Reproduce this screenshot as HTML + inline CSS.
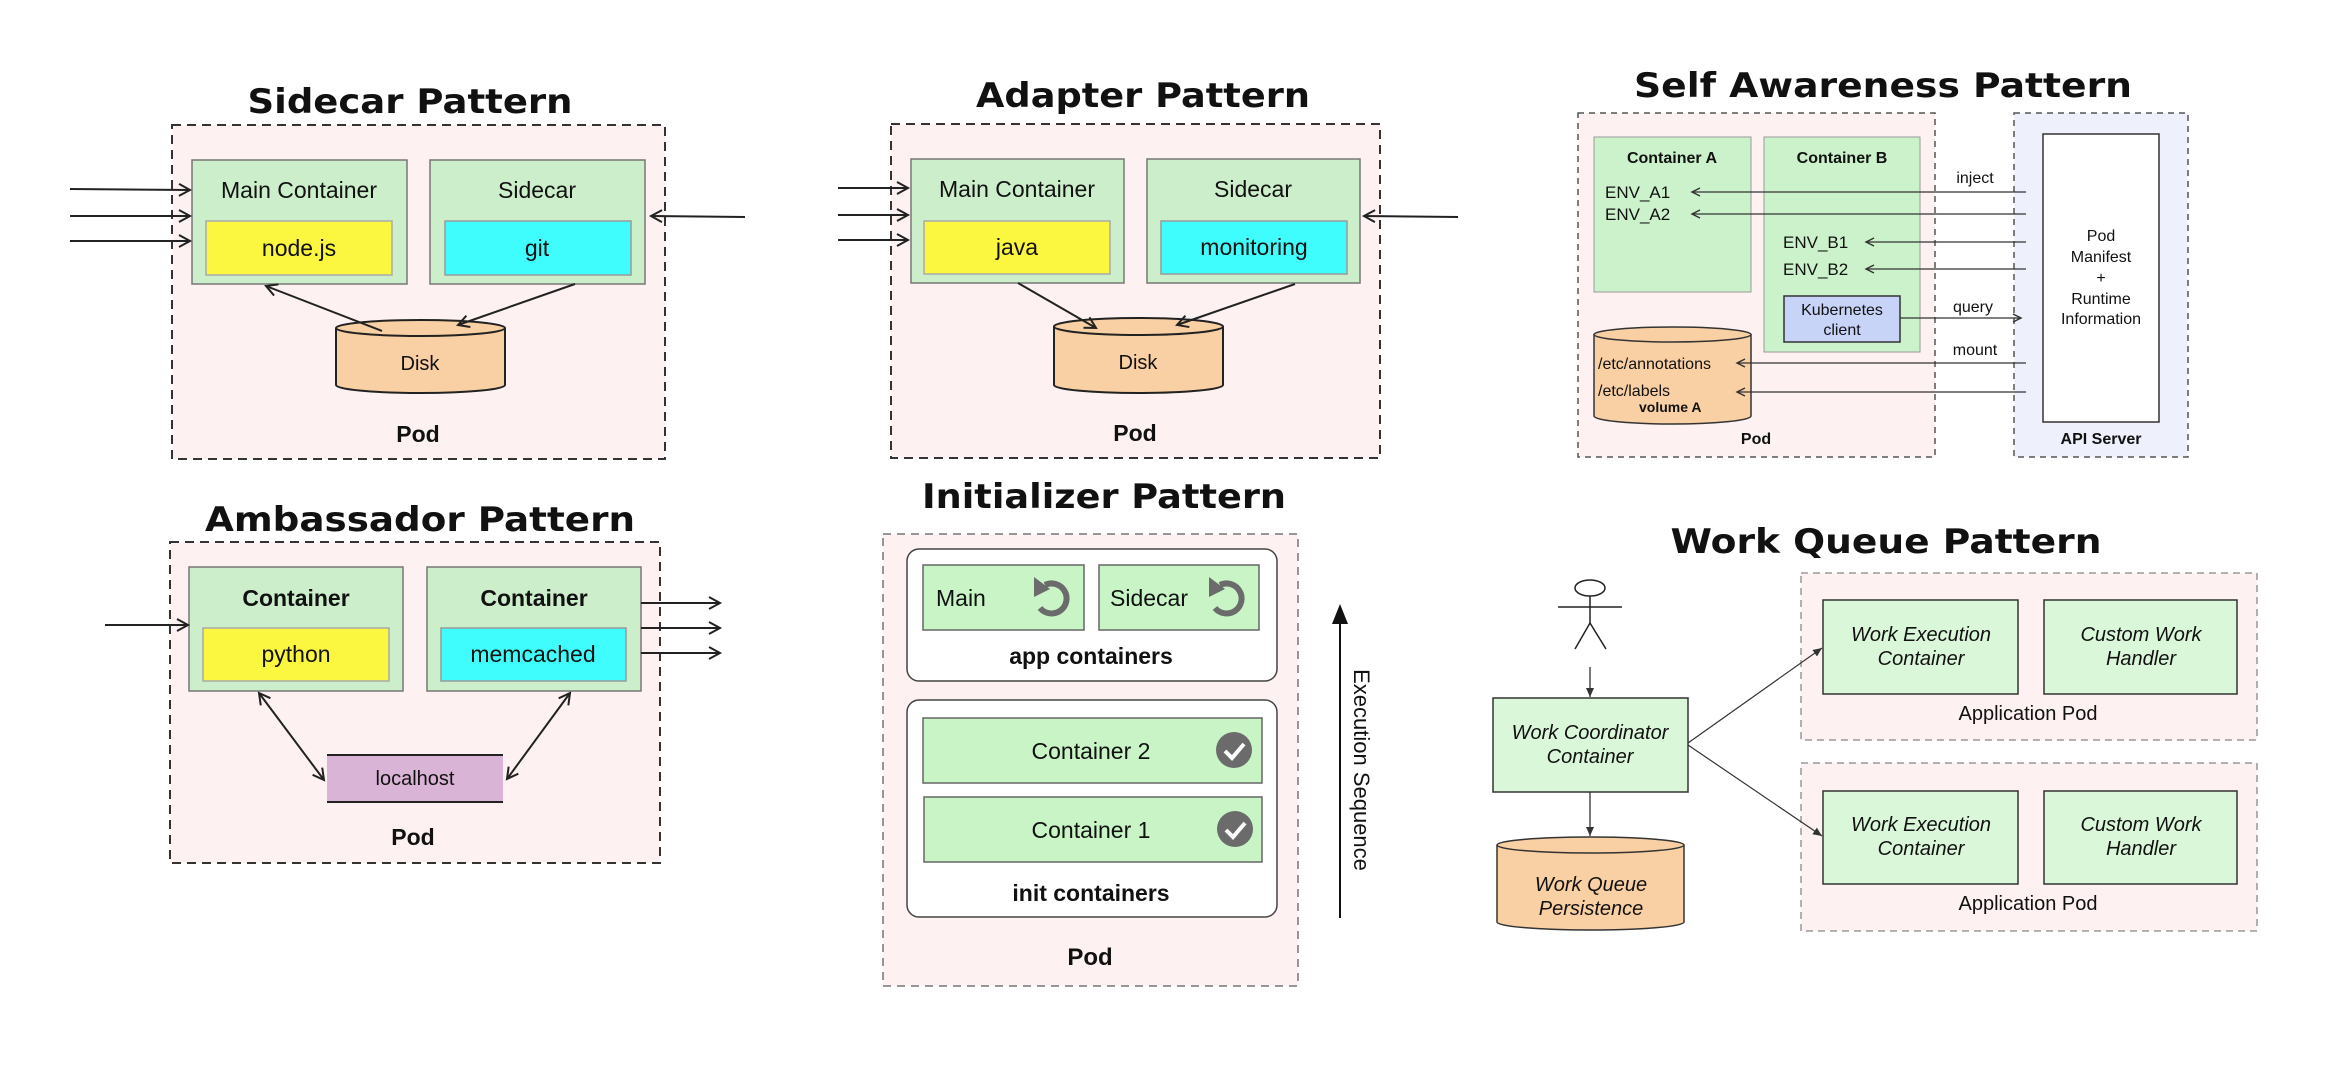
<!DOCTYPE html>
<html><head><meta charset="utf-8"><style>
html,body{margin:0;padding:0;background:#fff;}
svg{display:block;}
.t{font-family:"DejaVu Sans","Liberation Sans",sans-serif;font-size:34px;font-weight:bold;fill:#111;text-anchor:middle;}
.s{font-family:"Liberation Sans",Arial,sans-serif;fill:#111;}
.m{text-anchor:middle;}
.b{font-weight:bold;}
.i{font-style:italic;}
</style></head><body>
<svg width="2346" height="1071" viewBox="0 0 2346 1071" xmlns="http://www.w3.org/2000/svg">
<defs>
<marker id="o" markerUnits="userSpaceOnUse" markerWidth="16" markerHeight="16" refX="13" refY="8" orient="auto"><path d="M2,2 L13,8 L2,14" fill="none" stroke="#222" stroke-width="2"/></marker>
<marker id="os" markerUnits="userSpaceOnUse" markerWidth="12" markerHeight="12" refX="10" refY="6" orient="auto"><path d="M2,2 L10,6 L2,10" fill="none" stroke="#333" stroke-width="1.4"/></marker>
<marker id="osr" markerUnits="userSpaceOnUse" markerWidth="16" markerHeight="16" refX="3" refY="8" orient="auto"><path d="M14,2 L3,8 L14,14" fill="none" stroke="#222" stroke-width="2"/></marker>
<marker id="f" markerUnits="userSpaceOnUse" markerWidth="10" markerHeight="10" refX="9" refY="5" orient="auto"><path d="M0,1 L9,5 L0,9 Z" fill="#333"/></marker>
</defs>
<rect width="2346" height="1071" fill="#fff"/>

<!-- SIDECAR -->
<text class="t" x="410" y="113" textLength="325" lengthAdjust="spacingAndGlyphs">Sidecar Pattern</text>
<rect x="172" y="125" width="493" height="334" fill="#fdf1f1" stroke="#333" stroke-width="2" stroke-dasharray="9,6"/>
<rect x="192" y="160" width="215" height="124" fill="#cdeecb" stroke="#777" stroke-width="1.5"/>
<rect x="430" y="160" width="215" height="124" fill="#cdeecb" stroke="#777" stroke-width="1.5"/>
<rect x="206" y="221" width="186" height="54" fill="#fbf63f" stroke="#aaa" stroke-width="1.5"/>
<rect x="445" y="221" width="186" height="54" fill="#3ffdfd" stroke="#999" stroke-width="1.5"/>
<text class="s m" x="299" y="198" font-size="23">Main Container</text>
<text class="s m" x="537" y="198" font-size="23">Sidecar</text>
<text class="s m" x="299" y="256" font-size="23">node.js</text>
<text class="s m" x="537" y="256" font-size="23">git</text>
<path d="M336,328 V385 A84.5,8 0 0 0 505,385 V328" fill="#f9cfa4" stroke="#222" stroke-width="2"/>
<ellipse cx="420.5" cy="328" rx="84.5" ry="8" fill="#f9cfa4" stroke="#222" stroke-width="2"/>
<text class="s m" x="420" y="370" font-size="20">Disk</text>
<text class="s m b" x="418" y="442" font-size="23">Pod</text>
<line x1="70" y1="189" x2="190" y2="190" stroke="#222" stroke-width="2" marker-end="url(#o)"/>
<line x1="70" y1="216" x2="190" y2="216" stroke="#222" stroke-width="2" marker-end="url(#o)"/>
<line x1="70" y1="241" x2="190" y2="241" stroke="#222" stroke-width="2" marker-end="url(#o)"/>
<line x1="745" y1="217" x2="651" y2="216" stroke="#222" stroke-width="2" marker-end="url(#o)"/>
<line x1="382" y1="331" x2="266" y2="286" stroke="#222" stroke-width="2" marker-end="url(#o)"/>
<line x1="575" y1="284" x2="458" y2="325" stroke="#222" stroke-width="2" marker-end="url(#o)"/>

<!-- ADAPTER -->
<text class="t" x="1143" y="107" textLength="334" lengthAdjust="spacingAndGlyphs">Adapter Pattern</text>
<rect x="891" y="124" width="489" height="334" fill="#fdf1f1" stroke="#333" stroke-width="2" stroke-dasharray="9,6"/>
<rect x="911" y="159" width="213" height="124" fill="#cdeecb" stroke="#777" stroke-width="1.5"/>
<rect x="1147" y="159" width="213" height="124" fill="#cdeecb" stroke="#777" stroke-width="1.5"/>
<rect x="924" y="221" width="186" height="53" fill="#fbf63f" stroke="#aaa" stroke-width="1.5"/>
<rect x="1161" y="221" width="186" height="53" fill="#3ffdfd" stroke="#999" stroke-width="1.5"/>
<text class="s m" x="1017" y="197" font-size="23">Main Container</text>
<text class="s m" x="1253" y="197" font-size="23">Sidecar</text>
<text class="s m" x="1017" y="255" font-size="23">java</text>
<text class="s m" x="1254" y="255" font-size="23">monitoring</text>
<path d="M1054,326.5 V385 A84.5,8 0 0 0 1223,385 V326.5" fill="#f9cfa4" stroke="#222" stroke-width="2"/>
<ellipse cx="1138.5" cy="326.5" rx="84.5" ry="8.5" fill="#f9cfa4" stroke="#222" stroke-width="2"/>
<text class="s m" x="1138" y="369" font-size="20">Disk</text>
<text class="s m b" x="1135" y="441" font-size="23">Pod</text>
<line x1="838" y1="188" x2="908" y2="188" stroke="#222" stroke-width="2" marker-end="url(#o)"/>
<line x1="838" y1="215" x2="908" y2="215" stroke="#222" stroke-width="2" marker-end="url(#o)"/>
<line x1="838" y1="240" x2="908" y2="240" stroke="#222" stroke-width="2" marker-end="url(#o)"/>
<line x1="1458" y1="217" x2="1364" y2="216" stroke="#222" stroke-width="2" marker-end="url(#o)"/>
<line x1="1018" y1="283" x2="1096" y2="328" stroke="#222" stroke-width="2" marker-end="url(#o)"/>
<line x1="1295" y1="284" x2="1177" y2="325" stroke="#222" stroke-width="2" marker-end="url(#o)"/>

<!-- AMBASSADOR -->
<text class="t" x="420" y="531" textLength="430" lengthAdjust="spacingAndGlyphs">Ambassador Pattern</text>
<rect x="170" y="542" width="490" height="321" fill="#fdf1f1" stroke="#333" stroke-width="2" stroke-dasharray="9,6"/>
<rect x="189" y="567" width="214" height="124" fill="#cdeecb" stroke="#777" stroke-width="1.5"/>
<rect x="427" y="567" width="214" height="124" fill="#cdeecb" stroke="#777" stroke-width="1.5"/>
<rect x="203" y="628" width="186" height="53" fill="#fbf63f" stroke="#aaa" stroke-width="1.5"/>
<rect x="441" y="628" width="185" height="53" fill="#3ffdfd" stroke="#999" stroke-width="1.5"/>
<text class="s m b" x="296" y="606" font-size="23">Container</text>
<text class="s m b" x="534" y="606" font-size="23">Container</text>
<text class="s m" x="296" y="662" font-size="23">python</text>
<text class="s m" x="533" y="662" font-size="23">memcached</text>
<rect x="327" y="755" width="176" height="47" fill="#dab4d6"/>
<line x1="327" y1="755" x2="503" y2="755" stroke="#222" stroke-width="2"/>
<line x1="327" y1="802" x2="503" y2="802" stroke="#222" stroke-width="2"/>
<text class="s m" x="415" y="785" font-size="20">localhost</text>
<text class="s m b" x="413" y="845" font-size="23">Pod</text>
<line x1="105" y1="625" x2="188" y2="625" stroke="#222" stroke-width="2" marker-end="url(#o)"/>
<line x1="641" y1="603" x2="720" y2="603" stroke="#222" stroke-width="2" marker-end="url(#o)"/>
<line x1="641" y1="628" x2="720" y2="628" stroke="#222" stroke-width="2" marker-end="url(#o)"/>
<line x1="641" y1="653" x2="720" y2="653" stroke="#222" stroke-width="2" marker-end="url(#o)"/>
<line x1="259" y1="693" x2="324" y2="780" stroke="#222" stroke-width="2" marker-start="url(#osr)" marker-end="url(#o)"/>
<line x1="570" y1="693" x2="507" y2="779" stroke="#222" stroke-width="2" marker-start="url(#osr)" marker-end="url(#o)"/>

<!-- INITIALIZER -->
<text class="t" x="1104" y="508" textLength="364" lengthAdjust="spacingAndGlyphs">Initializer Pattern</text>
<rect x="883" y="534" width="415" height="452" fill="#fdf1f1" stroke="#777" stroke-width="1.5" stroke-dasharray="8,6"/>
<rect x="907" y="549" width="370" height="132" rx="12" fill="#fff" stroke="#444" stroke-width="1.5"/>
<rect x="923" y="565" width="161" height="65" fill="#c8f4c6" stroke="#666" stroke-width="1.5"/>
<rect x="1099" y="565" width="160" height="65" fill="#c8f4c6" stroke="#666" stroke-width="1.5"/>
<text class="s" x="936" y="606" font-size="23">Main</text>
<text class="s" x="1110" y="606" font-size="23">Sidecar</text>
<g fill="none" stroke="#6b6b6b" stroke-width="6">
<path d="M1045,585 A15,15 0 1 1 1040,608"/>
<path d="M1220,585 A15,15 0 1 1 1215,608"/>
</g>
<path d="M1034,577 L1050,589 L1034,597 Z" fill="#6b6b6b"/>
<path d="M1209,577 L1225,589 L1209,597 Z" fill="#6b6b6b"/>
<text class="s m b" x="1091" y="664" font-size="23">app containers</text>
<rect x="907" y="700" width="370" height="217" rx="12" fill="#fff" stroke="#444" stroke-width="1.5"/>
<rect x="923" y="718" width="339" height="65" fill="#c8f4c6" stroke="#666" stroke-width="1.5"/>
<rect x="924" y="797" width="338" height="65" fill="#c8f4c6" stroke="#666" stroke-width="1.5"/>
<text class="s m" x="1091" y="759" font-size="23">Container 2</text>
<text class="s m" x="1091" y="838" font-size="23">Container 1</text>
<circle cx="1234" cy="750" r="18" fill="#6b6b6b"/>
<circle cx="1235" cy="829" r="18" fill="#6b6b6b"/>
<polyline points="1225,751 1232,758 1244,744" fill="none" stroke="#fff" stroke-width="4"/>
<polyline points="1226,830 1233,837 1245,823" fill="none" stroke="#fff" stroke-width="4"/>
<text class="s m b" x="1091" y="901" font-size="23">init containers</text>
<text class="s m b" x="1090" y="965" font-size="24">Pod</text>
<line x1="1340" y1="918" x2="1340" y2="620" stroke="#111" stroke-width="2"/>
<path d="M1332,624 L1340,604 L1348,624 Z" fill="#111"/>
<text class="s m" transform="translate(1354,770) rotate(90)" font-size="22">Execution Sequence</text>

<!-- SELF AWARENESS -->
<text class="t" x="1883" y="97" textLength="498" lengthAdjust="spacingAndGlyphs">Self Awareness Pattern</text>
<rect x="1578" y="113" width="357" height="344" fill="#fdf1f1" stroke="#555" stroke-width="1.5" stroke-dasharray="6,5"/>
<rect x="2014" y="113" width="174" height="344" fill="#eef0fb" stroke="#555" stroke-width="1.5" stroke-dasharray="6,5"/>
<rect x="1594" y="137" width="157" height="155" fill="#ccf2cb" stroke="#999" stroke-width="1"/>
<rect x="1764" y="137" width="156" height="215" fill="#ccf2cb" stroke="#999" stroke-width="1"/>
<text class="s m b" x="1672" y="163" font-size="16">Container A</text>
<text class="s m b" x="1842" y="163" font-size="16">Container B</text>
<text class="s" x="1605" y="198" font-size="17">ENV_A1</text>
<text class="s" x="1605" y="220" font-size="17">ENV_A2</text>
<text class="s" x="1783" y="248" font-size="17">ENV_B1</text>
<text class="s" x="1783" y="275" font-size="17">ENV_B2</text>
<rect x="1784" y="296" width="116" height="46" fill="#c8d3f8" stroke="#333" stroke-width="1.5"/>
<text class="s m" x="1842" y="315" font-size="16">Kubernetes</text>
<text class="s m" x="1842" y="335" font-size="16">client</text>
<path d="M1594,334 V416 A78.5,8 0 0 0 1751,416 V334" fill="#f9cfa4" stroke="#333" stroke-width="1.5"/>
<ellipse cx="1672.5" cy="334.5" rx="78.5" ry="7.5" fill="#f9cfa4" stroke="#333" stroke-width="1.5"/>
<text class="s" x="1598" y="369" font-size="16">/etc/annotations</text>
<text class="s" x="1598" y="396" font-size="16">/etc/labels</text>
<text class="s b" x="1639" y="412" font-size="14">volume A</text>
<text class="s m b" x="1756" y="444" font-size="16">Pod</text>
<rect x="2043" y="134" width="116" height="288" fill="#fff" stroke="#333" stroke-width="1.5"/>
<g class="s m" font-size="16">
<text x="2101" y="241">Pod</text>
<text x="2101" y="262">Manifest</text>
<text x="2101" y="283">+</text>
<text x="2101" y="304">Runtime</text>
<text x="2101" y="324">Information</text>
</g>
<text class="s m b" x="2101" y="444" font-size="16">API Server</text>
<text class="s m" x="1975" y="183" font-size="16">inject</text>
<text class="s m" x="1973" y="312" font-size="16">query</text>
<text class="s m" x="1975" y="355" font-size="16">mount</text>
<g stroke="#333" stroke-width="1.3">
<line x1="2026" y1="192" x2="1692" y2="192" marker-end="url(#os)"/>
<line x1="2026" y1="214" x2="1692" y2="214" marker-end="url(#os)"/>
<line x1="2026" y1="242" x2="1866" y2="242" marker-end="url(#os)"/>
<line x1="2026" y1="269" x2="1866" y2="269" marker-end="url(#os)"/>
<line x1="1900" y1="318" x2="2021" y2="318" marker-end="url(#os)"/>
<line x1="2026" y1="363" x2="1737" y2="363" marker-end="url(#os)"/>
<line x1="2026" y1="392" x2="1737" y2="392" marker-end="url(#os)"/>
</g>

<!-- WORK QUEUE -->
<text class="t" x="1886" y="553" textLength="431" lengthAdjust="spacingAndGlyphs">Work Queue Pattern</text>
<g stroke="#222" stroke-width="1.5" fill="none">
<ellipse cx="1590" cy="588" rx="15" ry="8" fill="#fff"/>
<line x1="1590" y1="596" x2="1590" y2="623"/>
<line x1="1558" y1="607" x2="1622" y2="607"/>
<line x1="1590" y1="623" x2="1575" y2="649"/>
<line x1="1590" y1="623" x2="1606" y2="649"/>
</g>
<line x1="1590" y1="667" x2="1590" y2="697" stroke="#333" stroke-width="1.3" marker-end="url(#f)"/>
<rect x="1493" y="698" width="195" height="94" fill="#dbf7da" stroke="#333" stroke-width="1.5"/>
<text class="s m i" x="1590" y="739" font-size="20">Work Coordinator</text>
<text class="s m i" x="1590" y="763" font-size="20">Container</text>
<line x1="1590" y1="792" x2="1590" y2="836" stroke="#333" stroke-width="1.3" marker-end="url(#f)"/>
<path d="M1497,845 V922 A93.5,8 0 0 0 1684,922 V845" fill="#f9cfa4" stroke="#333" stroke-width="1.5"/>
<ellipse cx="1590.5" cy="845" rx="93.5" ry="8" fill="#f9cfa4" stroke="#333" stroke-width="1.5"/>
<text class="s m i" x="1591" y="891" font-size="20">Work Queue</text>
<text class="s m i" x="1591" y="915" font-size="20">Persistence</text>
<rect x="1801" y="573" width="456" height="167" fill="#fdf1f1" stroke="#888" stroke-width="1.3" stroke-dasharray="7,5"/>
<rect x="1801" y="763" width="456" height="168" fill="#fdf1f1" stroke="#888" stroke-width="1.3" stroke-dasharray="7,5"/>
<g fill="#dbf7da" stroke="#333" stroke-width="1.5">
<rect x="1823" y="600" width="195" height="94"/>
<rect x="2044" y="600" width="193" height="94"/>
<rect x="1823" y="791" width="195" height="93"/>
<rect x="2044" y="791" width="193" height="93"/>
</g>
<g class="s m i" font-size="20">
<text x="1921" y="641">Work Execution</text>
<text x="1921" y="665">Container</text>
<text x="2141" y="641">Custom Work</text>
<text x="2141" y="665">Handler</text>
<text x="1921" y="831">Work Execution</text>
<text x="1921" y="855">Container</text>
<text x="2141" y="831">Custom Work</text>
<text x="2141" y="855">Handler</text>
</g>
<text class="s m" x="2028" y="720" font-size="20">Application Pod</text>
<text class="s m" x="2028" y="910" font-size="20">Application Pod</text>
<line x1="1688" y1="743" x2="1822" y2="648" stroke="#333" stroke-width="1.2" marker-end="url(#f)"/>
<line x1="1688" y1="745" x2="1822" y2="836" stroke="#333" stroke-width="1.2" marker-end="url(#f)"/>
</svg>
</body></html>
